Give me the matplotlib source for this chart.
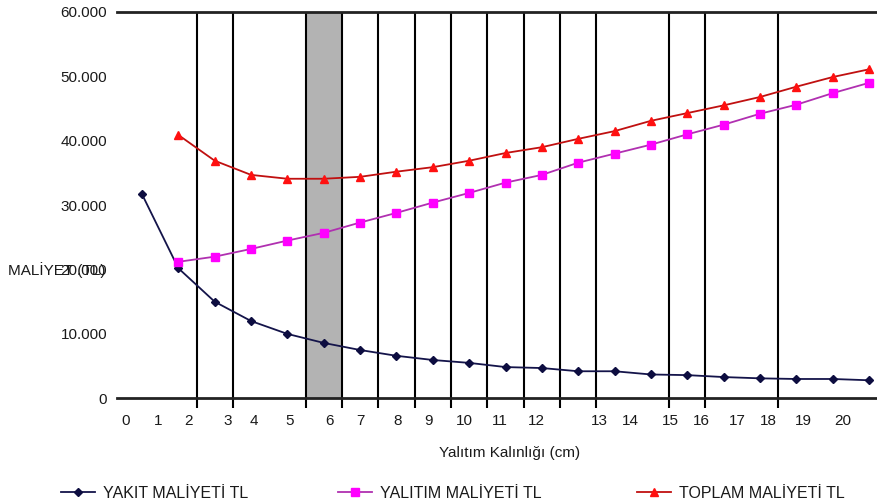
import matplotlib
matplotlib.use("Agg")
import matplotlib.pyplot as plt
from matplotlib.ticker import FuncFormatter

plt.rcParams['font.family'] = ['Liberation Sans', 'DejaVu Sans']

# ---- data ----
steps = list(range(21))                       # category index of each measured point
yakit = [31700, 20200, 15000, 12000, 10000, 8600, 7500, 6600, 5950, 5500, 4850,
         4700, 4200, 4200, 3700, 3600, 3300, 3100, 3000, 3000, 2800]
yalitim = [21200, 22000, 23200, 24500, 25700, 27300, 28800, 30400, 31900, 33500,
           34700, 36600, 38000, 39400, 41000, 42500, 44200, 45600, 47400, 49000]
toplam = [40900, 36900, 34700, 34100, 34100, 34400, 35200, 35900, 36900, 38100,
          39000, 40300, 41500, 43100, 44300, 45500, 46800, 48400, 49900, 51100]
tick_labels = [str(i) for i in range(21)]
series_names = ["YAKIT MALİYETİ TL", "YALITIM MALİYETİ TL", "TOPLAM MALİYETİ TL"]
y_ticks = [0, 10000, 20000, 30000, 40000, 50000, 60000]

# ---- layout ----
grid_pos = [1.5, 2.5, 4.5, 5.5, 6.5, 7.5, 8.5, 9.5, 10.5, 11.5, 12.5, 14.5, 15.5, 17.5]
label_pos = [-0.44, 0.44, 1.27, 2.37, 3.08, 4.07, 5.17, 6.02, 7.02, 7.87, 8.86,
             9.85, 10.84, 12.57, 13.42, 14.53, 15.38, 16.37, 17.22, 18.18, 19.28]
band = (4.5, 5.5)

W, H = 878, 500
fig = plt.figure(figsize=(W / 100, H / 100), dpi=100)
ax = fig.add_axes([117 / W, 1 - 398.3 / H, (876 - 117) / W, (398.3 - 12) / H])

ax.axvspan(band[0], band[1], color='#b3b3b3', zorder=0.3, lw=0)

l1, = ax.plot(steps, yakit, color='#14144a', lw=1.3, marker='D', ms=4,
              mfc='#0d0d40', mec='#0d0d40', zorder=3)
l2, = ax.plot(steps[1:], yalitim, color='#b030b0', lw=1.3, marker='s', ms=5.5,
              mfc='#ff00ff', mec='#ff00ff', zorder=3)
l3, = ax.plot(steps[1:], toplam, color='#c01010', lw=1.3, marker='^', ms=6,
              mfc='#ff1010', mec='#ff1010', zorder=3)

ax.set_xlim(-0.688, 20.19)
ax.set_ylim(0, 60000)

ax.set_xticks(grid_pos)
ax.set_xticklabels([])
ax.tick_params(axis='x', which='major', length=7, width=1.5, color='black', direction='out')
ax.set_xticks(label_pos, minor=True)
ax.set_xticklabels(tick_labels, minor=True)
ax.tick_params(axis='x', which='minor', length=0, pad=11, labelsize=11, labelcolor='#1a1a1a')
ax.grid(axis='x', which='major', color='black', lw=1.5)
ax.set_axisbelow(True)

ax.set_yticks(y_ticks)
ax.yaxis.set_major_formatter(FuncFormatter(lambda v, p: f"{int(v):,}".replace(",", ".")))
ax.tick_params(axis='y', length=0, pad=7, labelsize=11, labelcolor='#1a1a1a')

for s in ['left', 'right']:
    ax.spines[s].set_visible(False)
for s in ['top', 'bottom']:
    ax.spines[s].set_linewidth(2)
    ax.spines[s].set_color('#222222')

fig.text(8 / W, 1 - 270 / H, "MALİYET (TL)", ha='left', va='center', fontsize=11, color='#1a1a1a')
fig.text(510 / W, 1 - 453 / H, "Yalıtım Kalınlığı (cm)", ha='center', va='center',
         fontsize=11, color='#1a1a1a')

for line, name, xpix in zip([l1, l2, l3], series_names, [61, 338, 637]):
    fig.legend([line], [name], loc='center left', bbox_to_anchor=(xpix / W, 1 - 493 / H),
               frameon=False, borderpad=0, borderaxespad=0, handlelength=2.1,
               handletextpad=0.5, numpoints=1, fontsize=11.5, labelcolor='#1a1a1a')

fig.savefig("out.png", dpi=100)
